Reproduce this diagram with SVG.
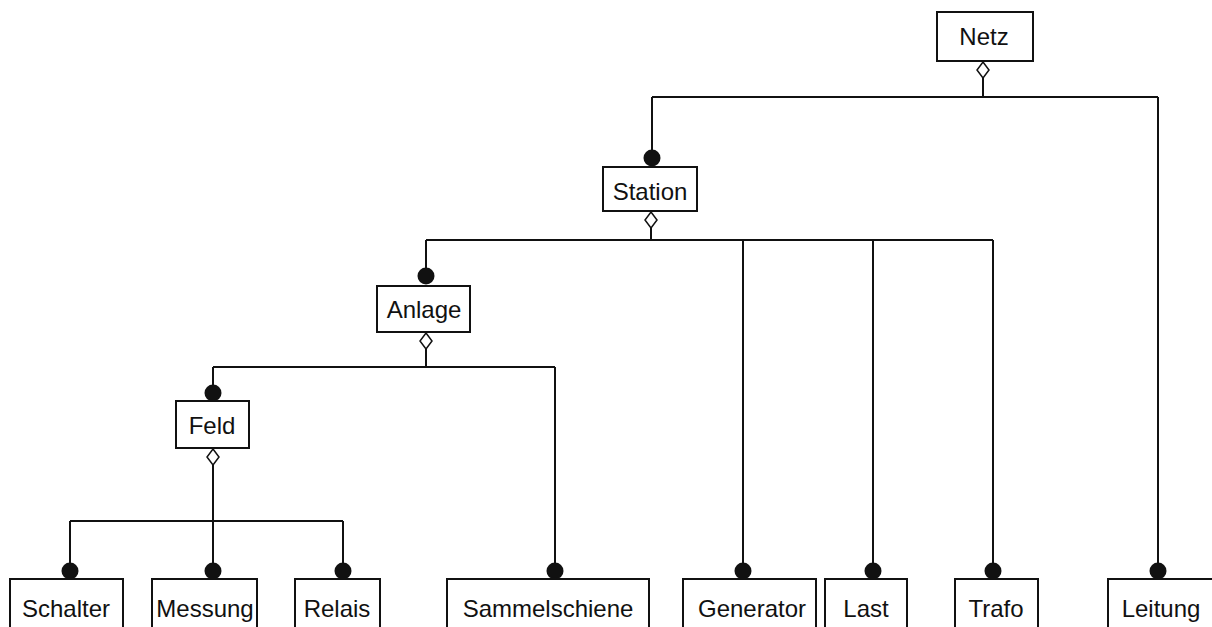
<svg xmlns="http://www.w3.org/2000/svg" width="1212" height="627" viewBox="0 0 1212 627">
  <style>
    .box { fill: #ffffff; stroke: #111111; stroke-width: 2; }
    .lbl { font-family: "Liberation Sans", Arial, sans-serif; font-size: 24px; fill: #111111; text-anchor: middle; }
    .ln { fill: none; stroke: #111111; stroke-width: 2; }
    .dot { fill: #111111; }
    .dia { fill: #ffffff; stroke: #111111; stroke-width: 1.5; }
  </style>
  <defs>
    <path id="diamond" class="dia" d="M0,0 L6,8 L0,16 L-6,8 Z"/>
    <circle id="ball" class="dot" r="8.5"/>
  </defs>
  <rect width="1212" height="627" fill="#ffffff"/>

  <g id="connectors">
    <!-- Netz aggregation -->
    <path class="ln" d="M983,78 V97 M652,97 H1158 M652,97 V158 M1158,97 V571"/>
    <use href="#diamond" x="983" y="62"/>
    <!-- Station aggregation -->
    <path class="ln" d="M651,228 V240 M426,240 H993 M426,240 V275 M743,240 V571 M873,240 V571 M993,240 V571"/>
    <use href="#diamond" x="651" y="212"/>
    <!-- Anlage aggregation -->
    <path class="ln" d="M426,349 V367 M213,367 H555 M213,367 V393 M555,367 V571"/>
    <use href="#diamond" x="426" y="333"/>
    <!-- Feld aggregation -->
    <path class="ln" d="M213,465 V571 M70,521 H343 M70,521 V571 M343,521 V571"/>
    <use href="#diamond" x="213" y="449"/>
    <!-- part ends -->
    <use href="#ball" x="652" y="158"/>
    <use href="#ball" x="426" y="276"/>
    <use href="#ball" x="213" y="393"/>
    <use href="#ball" x="70" y="571"/>
    <use href="#ball" x="213" y="571"/>
    <use href="#ball" x="343" y="571"/>
    <use href="#ball" x="555" y="571"/>
    <use href="#ball" x="743" y="571"/>
    <use href="#ball" x="873" y="571"/>
    <use href="#ball" x="993" y="571"/>
    <use href="#ball" x="1158" y="571"/>
  </g>

  <g id="netz"><rect class="box" x="937" y="12" width="96" height="49"/><text class="lbl" x="984" y="45">Netz</text></g>
  <g id="station"><rect class="box" x="603" y="167" width="94" height="44"/><text class="lbl" x="650" y="200">Station</text></g>
  <g id="anlage"><rect class="box" x="377" y="286" width="93" height="46"/><text class="lbl" x="424" y="318">Anlage</text></g>
  <g id="feld"><rect class="box" x="176" y="401" width="73" height="47"/><text class="lbl" x="212" y="434">Feld</text></g>

  <g id="schalter"><rect class="box" x="10" y="579" width="113" height="60"/><text class="lbl" x="66" y="617">Schalter</text></g>
  <g id="messung"><rect class="box" x="152" y="579" width="105" height="60"/><text class="lbl" x="205" y="617">Messung</text></g>
  <g id="relais"><rect class="box" x="295" y="579" width="85" height="60"/><text class="lbl" x="337" y="617">Relais</text></g>
  <g id="sammelschiene"><rect class="box" x="447" y="579" width="202" height="60"/><text class="lbl" x="548" y="617">Sammelschiene</text></g>
  <g id="generator"><rect class="box" x="683" y="579" width="133" height="60"/><text class="lbl" x="752" y="617">Generator</text></g>
  <g id="last"><rect class="box" x="825" y="579" width="82" height="60"/><text class="lbl" x="866" y="617">Last</text></g>
  <g id="trafo"><rect class="box" x="955" y="579" width="83" height="60"/><text class="lbl" x="996" y="617">Trafo</text></g>
  <g id="leitung"><rect class="box" x="1108" y="579" width="110" height="60"/><text class="lbl" x="1161" y="617">Leitung</text></g>
</svg>
